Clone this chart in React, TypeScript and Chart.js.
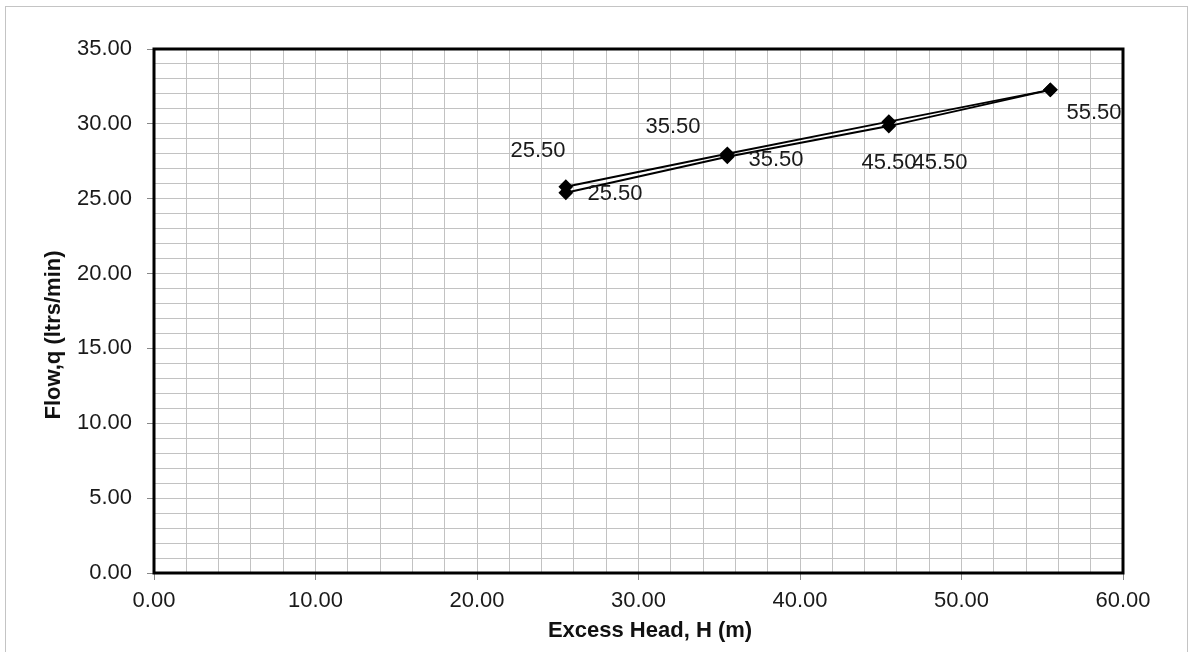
import React, { useEffect, useRef } from "react";
import { Chart, registerables } from "chart.js";

Chart.register(...registerables);

const xValues = [25.5, 35.5, 45.5, 55.5];
const seriesUpper = [25.8, 28.0, 30.15, 32.27];
const seriesLower = [25.4, 27.8, 29.85, 32.27];
const xTitle = "Excess Head, H (m)";
const yTitle = "Flow,q (ltrs/min)";

// label offsets (px) relative to each point, per dataset
const labelOffsets = [
  [[-28, -36], [-54, -27], [0, 41], [44, 23]],
  [[49, 1], [49, 3], [51, 37], [44, 23]],
];

const FONT = "'Liberation Sans', Arial, sans-serif";

const decorPlugin = {
  id: "decor",
  beforeDraw(chart: any) {
    const ctx = chart.ctx;
    ctx.save();
    ctx.fillStyle = "#ffffff";
    ctx.fillRect(0, 0, chart.width, chart.height);
    ctx.strokeStyle = "#c4c4c4";
    ctx.lineWidth = 1;
    ctx.strokeRect(5.5, 6.5, 1182, 700);
    ctx.restore();
  },
  beforeDatasetsDraw(chart: any) {
    const { ctx, chartArea: a } = chart;
    ctx.save();
    ctx.strokeStyle = "#000";
    ctx.lineWidth = 3;
    ctx.strokeRect(a.left, a.top, a.right - a.left, a.bottom - a.top);
    ctx.restore();
  },
  afterDatasetsDraw(chart: any) {
    const { ctx } = chart;
    ctx.save();
    ctx.fillStyle = "#1a1a1a";
    ctx.font = `22px ${FONT}`;
    ctx.textAlign = "center";
    ctx.textBaseline = "middle";
    const drawn = new Set<string>();
    chart.data.datasets.forEach((ds: any, di: number) => {
      const meta = chart.getDatasetMeta(di);
      meta.data.forEach((pt: any, i: number) => {
        const off = labelOffsets[di][i];
        const lx = Math.round(pt.x + off[0]);
        const ly = Math.round(pt.y + off[1]);
        const txt = xValues[i].toFixed(2);
        const key = `${txt}@${lx},${ly}`;
        if (drawn.has(key)) return;
        drawn.add(key);
        ctx.fillText(txt, lx, ly);
      });
    });
    // axis titles
    ctx.fillStyle = "#111";
    ctx.font = `bold 22px ${FONT}`;
    ctx.fillText(xTitle, 650, 631);
    ctx.translate(54, 335);
    ctx.rotate(-Math.PI / 2);
    ctx.fillText(yTitle, 0, 0);
    ctx.restore();
  },
};

export default function App() {
  const ref = useRef<HTMLCanvasElement>(null);
  useEffect(() => {
    if (!ref.current) return;
    const mk = (vals: number[]) => xValues.map((x, i) => ({ x, y: vals[i] }));
    const chart = new Chart(ref.current, {
      type: "scatter",
      data: {
        datasets: [
          {
            label: "Upper",
            data: mk(seriesUpper),
            showLine: true,
            borderColor: "#000",
            backgroundColor: "#000",
            borderWidth: 2,
            pointStyle: "rectRot",
            pointRadius: 6,
            pointHoverRadius: 6,
          },
          {
            label: "Lower",
            data: mk(seriesLower),
            showLine: true,
            borderColor: "#000",
            backgroundColor: "#000",
            borderWidth: 2,
            pointStyle: "rectRot",
            pointRadius: 6,
            pointHoverRadius: 6,
          },
        ],
      },
      options: {
        animation: false,
        responsive: false,
        events: [],
        layout: { padding: { left: 0, top: 49, right: 66, bottom: 0 } },
        plugins: { legend: { display: false }, tooltip: { enabled: false } },
        scales: {
          x: {
            type: "linear",
            min: 0,
            max: 60,
            afterFit: (s: any) => {
              s.height = 79;
            },
            ticks: {
              stepSize: 2,
              autoSkip: false,
              maxRotation: 0,
              padding: 8,
              color: "#1a1a1a",
              font: { family: FONT, size: 22 },
              callback: (v: any) => (Math.round(v) % 10 === 0 ? Number(v).toFixed(2) : ""),
            },
            grid: {
              color: "#c2c2c2",
              lineWidth: 1,
              tickLength: 7,
              tickColor: (c: any) =>
                c.tick && Math.round(c.tick.value) % 10 === 0 ? "#888" : "rgba(0,0,0,0)",
            },
            border: { display: false },
          },
          y: {
            type: "linear",
            min: 0,
            max: 35,
            afterFit: (s: any) => {
              s.width = 154;
            },
            ticks: {
              stepSize: 1,
              autoSkip: false,
              padding: 15,
              color: "#1a1a1a",
              font: { family: FONT, size: 22 },
              callback: (v: any) => (Math.round(v) % 5 === 0 ? Number(v).toFixed(2) : ""),
            },
            grid: {
              color: "#c2c2c2",
              lineWidth: 1,
              tickLength: 7,
              tickColor: (c: any) =>
                c.tick && Math.round(c.tick.value) % 5 === 0 ? "#888" : "rgba(0,0,0,0)",
            },
            border: { display: false },
          },
        },
      },
      plugins: [decorPlugin],
    });
    return () => chart.destroy();
  }, []);
  return (
    <div style={{ position: "fixed", left: 0, top: 0, width: 1189, height: 652, background: "#fff" }}>
      <canvas ref={ref} width={1189} height={652} style={{ display: "block" }} />
    </div>
  );
}
